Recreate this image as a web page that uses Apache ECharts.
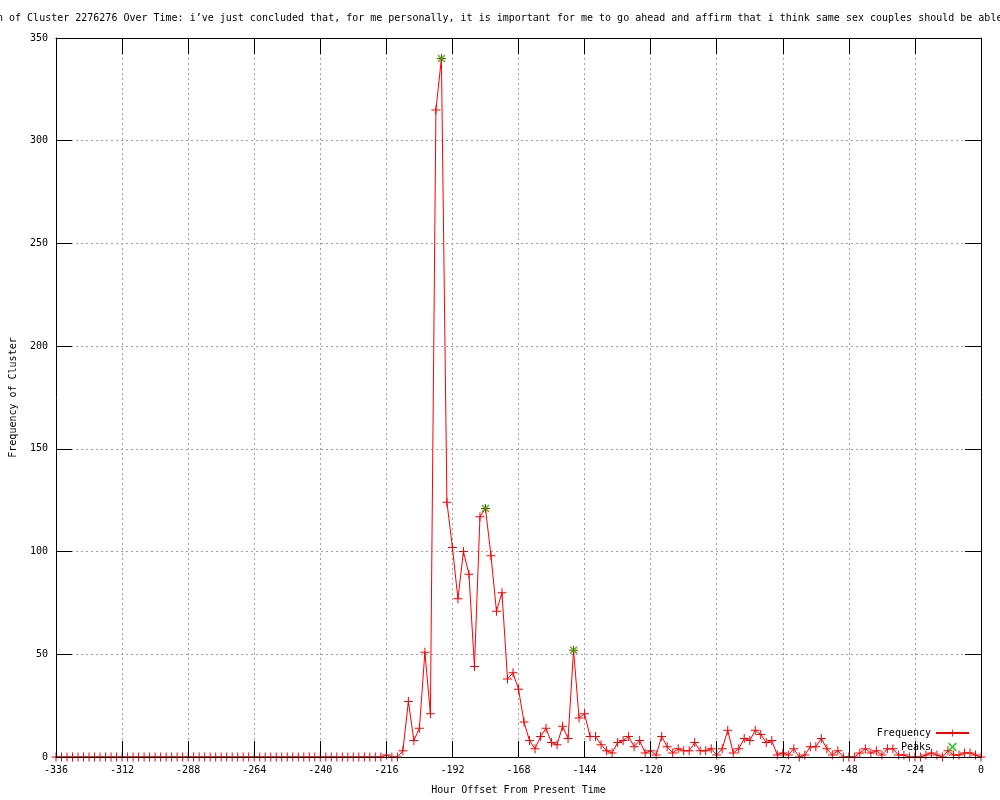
<!DOCTYPE html>
<html>
<head>
<meta charset="utf-8">
<script src="https://cdn.jsdelivr.net/npm/echarts@6/dist/echarts.min.js"></script>
<style>
  html, body { margin: 0; padding: 0; background: #fff; }
  #chart { width: 1000px; height: 800px; }
</style>
</head>
<body>
<div id="chart"></div>
<script>
// ---- data ----
const titleText = "n of Cluster 2276276 Over Time: i\u2019ve just concluded that, for me personally, it is important for me to go ahead and affirm that i think same sex couples should be able";
const xAxisTitle = "Hour Offset From Present Time";
const yAxisTitle = "Frequency of Cluster";

const hours = [
  -336,-334,-332,-330,-328,-326,-324,-322,-320,-318,-316,-314,
  -312,-310,-308,-306,-304,-302,-300,-298,-296,-294,-292,-290,
  -288,-286,-284,-282,-280,-278,-276,-274,-272,-270,-268,-266,
  -264,-262,-260,-258,-256,-254,-252,-250,-248,-246,-244,-242,
  -240,-238,-236,-234,-232,-230,-228,-226,-224,-222,-220,-218,
  -216,-214,-212,-210,-208,-206,-204,-202,-200,-198,-196,-194,
  -192,-190,-188,-186,-184,-182,-180,-178,-176,-174,-172,-170,
  -168,-166,-164,-162,-160,-158,-156,-154,-152,-150,-148,-146,
  -144,-142,-140,-138,-136,-134,-132,-130,-128,-126,-124,-122,
  -120,-118,-116,-114,-112,-110,-108,-106,-104,-102,-100,-98,
  -96,-94,-92,-90,-88,-86,-84,-82,-80,-78,-76,-74,
  -72,-70,-68,-66,-64,-62,-60,-58,-56,-54,-52,-50,
  -48,-46,-44,-42,-40,-38,-36,-34,-32,-30,-28,-26,
  -24,-22,-20,-18,-16,-14,-12,-10,-8,-6,-4,-2,
  0
];

const frequency = [
  0,0,0,0,0,0,0,0,0,0,0,0,
  0,0,0,0,0,0,0,0,0,0,0,0,
  0,0,0,0,0,0,0,0,0,0,0,0,
  0,0,0,0,0,0,0,0,0,0,0,0,
  0,0,0,0,0,0,0,0,0,0,0,0,
  1,0,0,3,27,8,14,51,21,315,340,124,
  102,77,100,89,44,117,121,98,71,80,38,41,
  33,17,8,4,10,14,7,6,15,9,52,19,
  21,10,10,6,3,2,7,8,10,5,8,2,
  3,1,10,5,2,4,3,3,7,3,3,4,
  1,4,13,2,4,9,8,13,11,7,8,1,
  2,1,4,0,1,5,5,9,4,1,3,0,
  0,0,2,4,2,3,1,4,4,1,1,0,
  0,0,1,2,1,0,3,1,1,2,2,1,
  0
];

const peakHours = [-196, -180, -148];
const peakValues = [340, 121, 52];

const xTicks = { min: -336, max: 0, interval: 24 };
const yTicks = { min: 0, max: 350, interval: 50 };

// ---- chart ----
const FONT = "'DejaVu Sans Mono', 'Liberation Mono', monospace";
const plusPath = 'path://M4,0h1v4h4v1h-4v4h-1v-4h-4v-1h4z';
const xPath = 'path://M0,1L1,0L3.5,2.5L6,0L7,1L4.5,3.5L7,6L6,7L3.5,4.5L1,7L0,6L2.5,3.5Z';

const freqData = hours.map((h, i) => [h, frequency[i]]);
const peakData = peakHours.map((h, i) => [h, peakValues[i]]);

const frameLine = { show: true, onZero: false, lineStyle: { color: '#000', width: 1 } };
const frameTick = { show: true, inside: true, length: 16, lineStyle: { color: '#000', width: 1 } };
const gridSplit = { show: true, lineStyle: { color: '#a0a0a0', type: [2, 3], width: 1 } };
const labelStyle = { fontFamily: FONT, fontSize: 10, color: '#000' };

const chart = echarts.init(document.getElementById('chart'), null, { renderer: 'canvas' });
chart.setOption({
  animation: false,
  backgroundColor: '#fff',
  title: {
    text: titleText,
    left: -3,
    top: 13,
    padding: 0,
    textStyle: { fontFamily: FONT, fontSize: 10, fontWeight: 'normal', color: '#000' }
  },
  grid: { left: 56, right: 19, top: 38, bottom: 40, containLabel: false },
  legend: {
    orient: 'vertical',
    align: 'right',
    right: 30,
    top: 728,
    padding: 0,
    itemGap: 4,
    itemWidth: 33,
    itemHeight: 9,
    textStyle: { fontFamily: FONT, fontSize: 10, color: '#000' },
    data: ['Frequency', 'Peaks']
  },
  xAxis: [
    {
      type: 'value', position: 'bottom', z: 5,
      min: xTicks.min, max: xTicks.max, interval: xTicks.interval,
      axisLine: frameLine, axisTick: frameTick,
      axisLabel: Object.assign({ margin: 8 }, labelStyle),
      splitLine: { show: false },
      name: xAxisTitle, nameLocation: 'middle', nameGap: 28,
      nameTextStyle: labelStyle
    },
    {
      type: 'value', position: 'top', z: 5,
      min: xTicks.min, max: xTicks.max, interval: xTicks.interval,
      axisLine: frameLine, axisTick: frameTick,
      axisLabel: { show: false }, splitLine: { show: false }
    },
    {
      type: 'value', position: 'bottom', z: 0,
      min: xTicks.min, max: xTicks.max, interval: xTicks.interval,
      axisLine: { show: false, onZero: false }, axisTick: { show: false },
      axisLabel: { show: false }, splitLine: gridSplit
    }
  ],
  yAxis: [
    {
      type: 'value', position: 'left', z: 5,
      min: yTicks.min, max: yTicks.max, interval: yTicks.interval,
      axisLine: frameLine, axisTick: frameTick,
      axisLabel: Object.assign({ margin: 8 }, labelStyle),
      splitLine: { show: false },
      name: yAxisTitle, nameLocation: 'middle', nameGap: 38, nameRotate: 90,
      nameTextStyle: labelStyle
    },
    {
      type: 'value', position: 'right', z: 5,
      min: yTicks.min, max: yTicks.max, interval: yTicks.interval,
      axisLine: frameLine, axisTick: frameTick,
      axisLabel: { show: false }, splitLine: { show: false }
    },
    {
      type: 'value', position: 'left', z: 0,
      min: yTicks.min, max: yTicks.max, interval: yTicks.interval,
      axisLine: { show: false, onZero: false }, axisTick: { show: false },
      axisLabel: { show: false }, splitLine: gridSplit
    }
  ],
  series: [
    {
      name: 'Frequency',
      type: 'line',
      xAxisIndex: 0, yAxisIndex: 0,
      data: freqData,
      clip: false,
      symbol: plusPath,
      symbolSize: 9,
      showSymbol: true,
      showAllSymbol: true,
      lineStyle: { color: '#ff0000', width: 1 },
      itemStyle: { color: '#ff0000' },
      z: 2
    },
    {
      name: 'Peaks',
      type: 'scatter',
      xAxisIndex: 0, yAxisIndex: 0,
      data: peakData,
      clip: false,
      symbol: xPath,
      symbolSize: 8,
      itemStyle: { color: '#00c000' },
      z: 3
    }
  ]
});
</script>
</body>
</html>
